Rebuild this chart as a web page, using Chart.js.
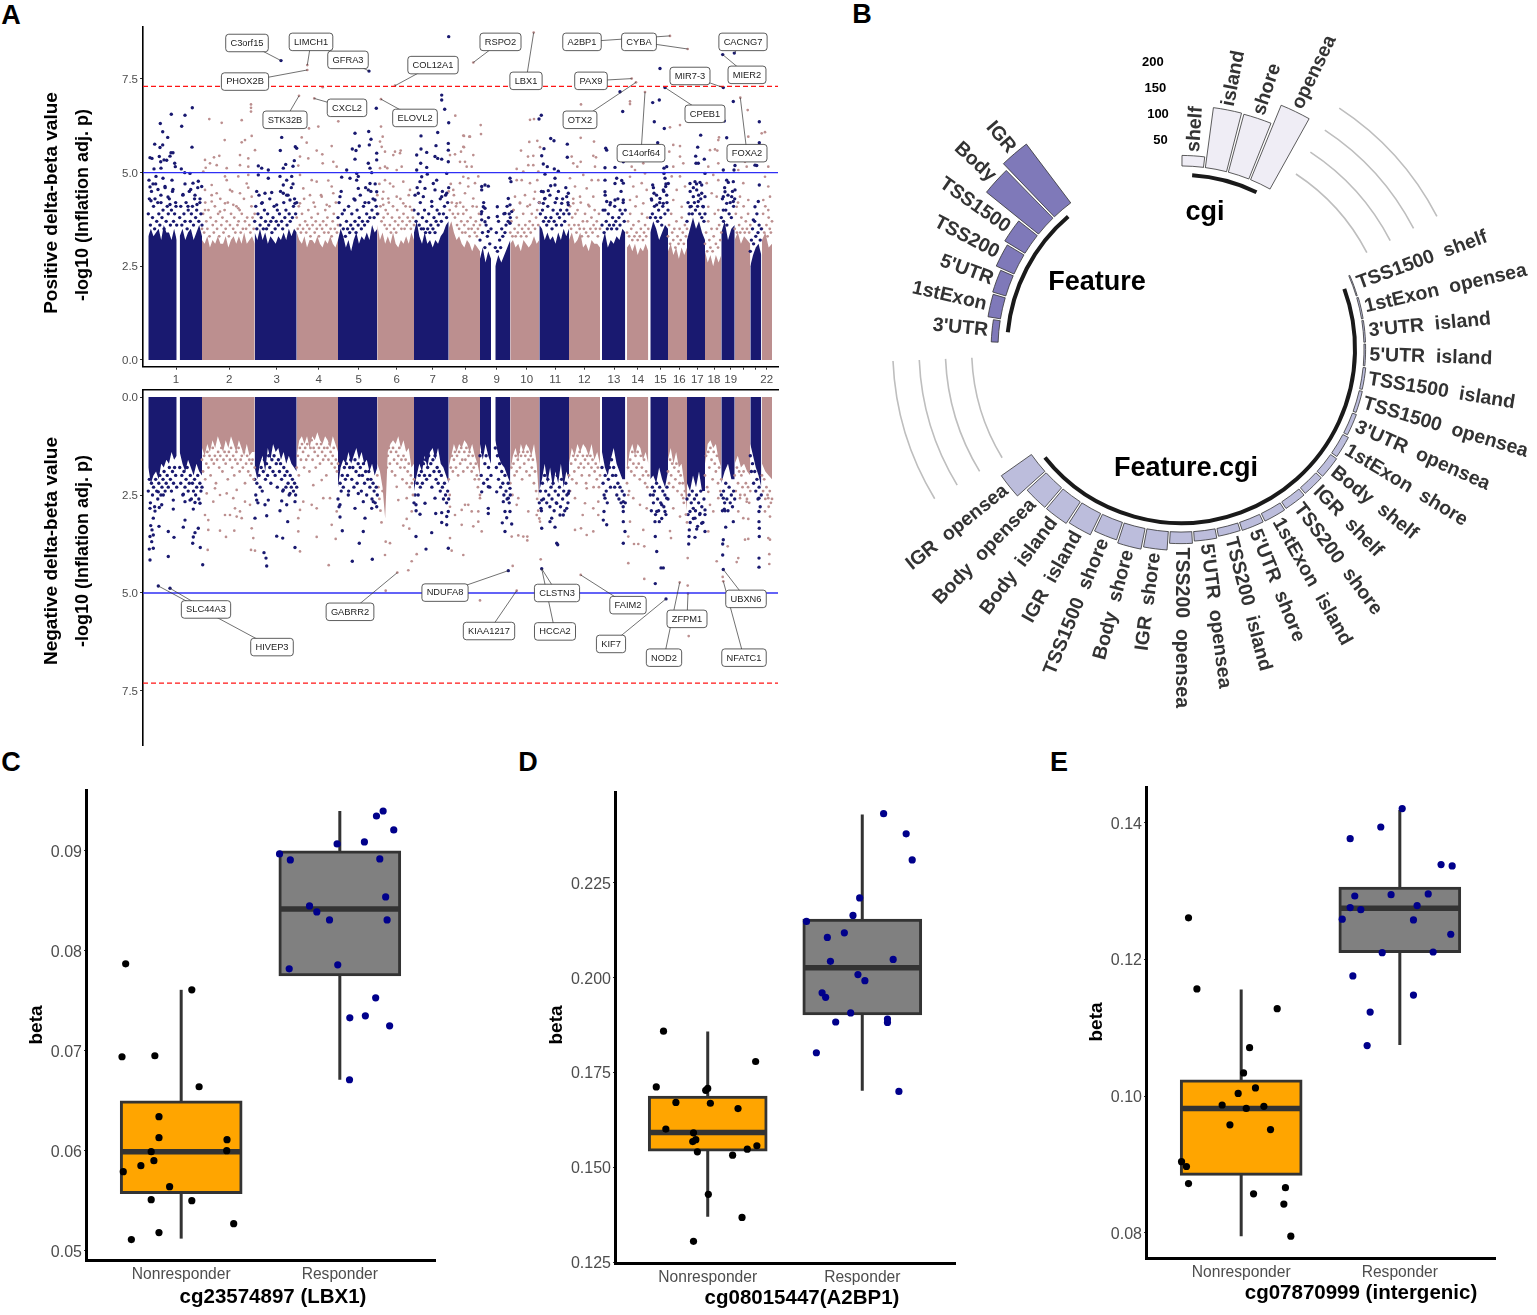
<!DOCTYPE html>
<html><head><meta charset="utf-8"><title>Methylation figure</title>
<style>
html,body{margin:0;padding:0;background:#fff;width:1537px;height:1315px;overflow:hidden}
canvas{position:absolute;display:block}
.letter{position:absolute;font:bold 27px "Liberation Sans",Arial,sans-serif;color:#000;transform:translate(-50%,-50%)}
</style>
<script src="https://cdn.jsdelivr.net/npm/chart.js@4/dist/chart.umd.js"></script>
</head><body>
<div class="letter" style="left:11px;top:15px">A</div>
<div class="letter" style="left:862px;top:14px">B</div>
<div class="letter" style="left:11px;top:762px">C</div>
<div class="letter" style="left:528px;top:762px">D</div>
<div class="letter" style="left:1059px;top:762px">E</div>
<canvas id="aTop" style="left:0;top:0" width="800" height="390"></canvas>
<canvas id="aBot" style="left:0;top:380px" width="800" height="375"></canvas>
<canvas id="bPolar" style="left:800px;top:0" width="737" height="730"></canvas>
<canvas id="cBox" style="left:0;top:770px" width="500" height="545"></canvas>
<canvas id="dBox" style="left:520px;top:770px" width="470" height="545"></canvas>
<canvas id="eBox" style="left:1060px;top:770px" width="477" height="545"></canvas>
<script>
// ---------- Panel A data ----------
const chrTickPos=[33,86.3,133.7,175.7,215.7,253.7,289.7,322,353.7,383.7,412.3,441.3,471,494.7,517.3,536.3,554.3,571,587.7,600.3,612.3,623.7];
const chrTickLabels=['1','2','3','4','5','6','7','8','9','10','11','12','13','14','15','16','17','18','19','','','22'];
const segStart=[5.3,36.7,59,111.7,153.7,195,234.3,271,305.7,337,352.3,367.3,396.3,426,459,484,507.3,525,544,562,578.3,591.7,607.3,619];
const segEnd=[33.7,59,111.7,153.7,195,234.3,271,305.7,337,348,367.3,396.3,426,457,482.3,505.3,525,544,562,578.3,591.7,607.3,618.3,629];
const segNavy=[1,1,0,1,0,1,0,1,0,1,1,0,1,0,1,0,1,0,1,0,1,0,1,0];
const topEnvelope=[
[3.3,3.5,3.3,3.4,3.5,3.2,3.6,3.4,3.4,3.2,3.5,3.2],
[3.3,3.5,3.2,3.4,3.5,3.2,3.4,3.6,3.3],
[3.2,3.1,3.3,3.0,3.2,3.1,3.3,3.1,3.1,3.3,3.0,3.2,3.3,3.1,3.3,3.1,3.4,3.1,3.2,3.3,3.1],
[3.4,3.2,3.5,3.2,3.4,3.1,3.3,3.2,3.1,3.3,3.2,3.4,3.2,3.5,3.3,3.5,3.4],
[3.4,3.2,3.1,3.3,3.0,3.2,3.2,3.1,3.3,3.1,3.0,3.2,3.1,3.3,3.1,3.0,3.2],
[3.2,3.5,3.3,3.0,3.2,2.9,3.2,3.4,3.1,3.3,3.2,3.4,3.2,3.6,3.4,3.5],
[3.6,3.2,3.4,3.1,3.3,3.1,3.4,3.1,3.0,3.2,3.1,3.3,3.1,3.4,3.2],
[3.4,3.7,3.3,3.1,3.4,3.1,3.2,3.0,3.2,3.1,3.3,3.4,3.6,3.7],
[3.5,3.7,3.4,3.2,3.3,3.1,3.0,3.2,3.1,2.9,3.1,3.0,2.9],
[2.7,3.0,2.6,2.9,2.7],
[2.5,2.8,2.6,2.8,3.0,3.2],
[3.1,3.2,3.0,3.1,2.9,3.2,3.1,3.0,3.1,3.3,3.1,3.2],
[3.6,3.5,3.2,3.4,3.2,3.3,3.1,3.4,3.2,3.5,3.3,3.5],
[3.2,3.4,3.1,3.2,3.4,3.0,3.1,2.9,3.2,3.1,3.1,3.0],
[3.1,3.4,3.0,3.2,3.1,3.3,3.2,3.5,3.4],
[3.0,3.1,2.9,3.1,2.8,3.0,2.9,3.1,2.9],
[3.4,3.7,3.5,3.2,3.4,3.6,3.5],
[2.9,3.1,2.8,3.0,2.7,3.0,2.8,3.0],
[3.2,3.5,3.8,3.5,3.7,3.4,3.2],
[2.9,2.6,2.8,2.5,2.8,2.6,2.8],
[3.4,3.7,3.2,3.5,3.6],
[3.2,3.4,3.1,3.3,3.2,3.1],
[2.5,2.8,3.0,3.1,2.8],
[3.2,3.4,3.0,3.1]];
const botEnvelope=[
[1.8,2.2,2.0,1.9,2.1,1.7,1.8,1.6,1.7,1.4,1.6,1.5],
[1.4,1.7,1.9,1.6,1.8,2.0,1.7,1.9,2.0],
[1.3,1.5,1.2,1.4,1.1,1.3,1.0,1.2,1.4,1.1,1.3,1.0,1.2,1.4,1.1,1.3,1.5,1.2,1.5,1.4,1.4],
[1.8,2.1,1.7,1.5,1.9,1.3,1.6,1.2,1.4,1.3,1.6,1.4,1.7,1.5,1.7,1.8,1.9],
[1.5,1.1,1.0,1.2,1.0,1.3,1.0,1.1,.9,1.1,1.2,1.0,1.1,1.3,1.0,1.2,1.4],
[2.3,1.8,1.6,1.7,1.4,1.7,1.5,1.3,1.6,1.4,1.7,1.6,1.9,1.7,2.0,1.8],
[1.7,1.9,2.3,3.1,1.4,1.2,1.1,1.2,1.0,1.3,1.1,1.4,1.3,1.8,1.7],
[2.4,2.0,1.7,1.9,1.5,1.8,1.4,1.3,1.6,1.3,1.7,1.8,2.0,2.2],
[1.8,1.5,1.2,1.4,1.2,1.3,1.1,1.2,1.4,1.2,1.5,1.7,2.0],
[1.2,1.6,1.2,1.5,1.7],
[1.1,1.5,1.7,1.8,2.0,2.2],
[1.9,1.5,1.3,1.6,1.2,1.4,1.2,1.3,1.5,1.2,1.7,2.7],
[2.4,2.1,1.7,2.2,1.8,2.3,1.9,2.2,1.7,2.3,1.9,2.1],
[1.7,1.3,1.5,1.2,1.4,1.2,1.3,1.5,1.2,1.6,1.4,1.7],
[1.4,1.8,2.0,1.6,1.3,1.7,1.9,2.1,2.1],
[1.9,1.4,1.2,1.5,1.2,1.3,1.6,1.4,1.7],
[2.1,2.0,2.2,1.8,2.1,2.3,1.9],
[1.6,1.3,1.7,1.4,1.8,1.7,2.2,2.9],
[2.2,2.4,2.0,2.3,1.9,2.4,2.4],
[1.7,1.2,1.1,1.3,1.2,1.6,1.8],
[2.2,1.9,1.7,2.1,2.1],
[1.7,1.5,1.8,1.7,1.9,2.0],
[1.2,1.5,1.8,2.0,2.3],
[1.7,1.9,2.0,2.1]];
// dots just above the solid mass, one list per chromosome segment, read left to right
const topSpeckle=[
[3.9,4.3,3.6,4.5,3.8,4.1,3.5,4.7,3.7,4.2,3.9,3.6,4.4,3.8,4.0,3.5,4.6,3.7,4.1,3.9,4.3,3.6,4.0,4.5,3.7,3.9,4.2,3.6],
[3.8,4.1,3.6,4.4,3.9,3.7,4.2,3.5,4.0,4.5,3.7,3.9,4.1,3.6,4.3,3.8,4.0,4.6,3.7,4.2,3.9,3.6],
[3.5,3.9,3.4,4.2,3.7,3.5,4.0,3.3,3.8,4.4,3.6,3.4,4.1,3.7,3.5,3.9,3.3,4.3,3.6,3.8,3.4,4.0,3.5,3.7,4.2,3.3,3.6,3.9,4.5,3.5,3.8,3.4,4.1,3.6,3.7,4.0,3.4,3.9,3.5,4.3,3.7,3.5,3.8,4.6,3.6,3.4,4.1,3.8,3.5,3.9],
[3.7,4.1,3.5,3.9,4.4,3.6,3.8,4.2,3.5,4.0,3.7,3.5,3.9,3.6,4.3,3.7,3.4,3.8,4.1,3.5,3.7,4.0,3.6,3.9,4.5,3.7,3.5,4.2,3.8,4.0,3.6,4.4,3.9,3.7,4.6,3.8,4.1,4.3,3.9,4.2],
[3.8,3.5,4.1,3.6,3.4,3.9,3.5,4.3,3.7,3.4,3.6,4.0,3.5,3.3,3.8,3.6,4.2,3.4,3.7,3.5,3.9,3.3,3.6,4.4,3.5,3.7,3.4,4.0,3.6,3.8,3.4,4.1,3.5,3.3,3.7,3.9,3.5,4.2,3.4,3.6],
[3.8,4.2,3.6,4.5,3.9,3.5,4.0,3.3,3.7,3.5,4.1,3.4,3.6,3.9,3.5,4.3,3.7,3.4,4.0,3.6,3.8,4.4,3.5,3.7,4.1,3.6,4.6,3.9,3.7,4.2,3.8,4.5,4.0,4.3,3.8,4.7,4.1,3.9],
[4.4,3.9,4.7,4.1,3.7,4.3,3.8,3.6,4.0,3.5,3.9,4.2,3.6,3.4,3.8,4.1,3.5,3.7,3.4,4.0,3.6,3.8,4.3,3.5,3.7,3.9,3.5,4.1,3.6,3.8,4.4,3.7,3.5,4.0,3.8,3.6],
[4.0,4.4,3.7,4.6,3.9,3.6,4.2,3.5,3.8,3.5,4.0,3.4,3.7,3.5,3.9,3.4,3.6,4.1,3.5,3.8,3.4,3.7,4.0,3.6,3.9,4.3,3.7,4.5,3.9,4.1,4.4,3.8,4.2,4.6],
[4.5,4.0,4.7,4.2,3.9,4.4,3.8,4.1,3.6,3.9,3.5,4.2,3.7,3.4,3.9,3.6,3.4,4.0,3.7,3.5,3.3,3.8,3.5,4.1,3.6,3.4,3.7,3.3,3.5,3.9,3.6],
[3.2,3.9,3.4,4.2,3.0,3.6,3.3,3.8,3.1,3.5],
[3.0,3.4,2.9,3.7,3.2,3.0,3.5,3.3,3.9,3.4,3.6,4.1,3.7,3.9,3.8],
[3.4,3.7,3.3,4.0,3.5,3.3,3.8,3.4,3.6,4.2,3.3,3.5,3.9,3.4,3.6,3.3,4.1,3.5,3.7,3.4,3.9,3.6,4.3,3.5,3.8,4.0,3.6,4.2],
[4.2,3.9,4.5,4.0,3.7,4.3,3.8,3.6,4.1,3.7,4.4,3.8,3.5,4.0,3.7,4.2,3.6,3.9,4.5,3.8,4.0,3.6,4.3,3.9,3.7,4.6,4.0,4.2,3.9],
[3.6,4.1,3.5,3.8,4.3,3.6,3.9,3.4,4.0,3.6,3.5,4.2,3.3,3.7,3.5,3.9,3.4,3.7,3.3,4.1,3.5,3.8,3.4,3.6,4.0,3.5,3.7,3.3,3.9,3.5],
[3.6,4.0,3.4,4.4,3.7,3.5,3.9,3.6,4.2,3.5,3.8,3.6,4.1,3.7,3.5,4.3,3.8,3.6,4.5,3.9,4.2,3.7,4.0],
[3.4,3.7,3.3,3.9,3.5,3.2,3.6,3.3,4.1,3.4,3.2,3.7,3.3,3.5,3.9,3.2,3.4,3.6,3.3,3.8,3.5],
[3.8,4.3,3.9,4.6,4.1,3.8,4.4,3.7,4.0,4.2,3.8,3.6,4.1,4.5,3.9,4.7,4.2,4.0],
[3.3,3.6,3.1,3.9,3.4,3.2,3.5,3.0,3.7,3.3,3.1,3.5,3.2,3.8,3.4,3.1,3.6,3.3,3.5],
[3.7,4.2,3.9,4.5,4.1,3.9,4.6,4.2,4.0,4.7,4.1,4.4,3.9,4.3,3.8,4.1,3.7,3.9],
[3.1,3.4,2.9,3.7,3.2,3.0,3.5,2.9,3.3,3.9,3.1,3.5,3.0,3.6,3.2,3.4],
[3.8,4.3,3.7,4.6,4.0,3.6,4.4,3.9,4.2,3.8,4.5,4.1,4.3],
[3.5,3.9,3.4,4.2,3.6,3.4,3.8,3.5,4.1,3.4,3.7,3.5,3.9,3.4,3.6],
[2.9,3.2,3.5,3.1,3.7,3.3,3.9,3.4,3.6,3.2,3.5],
[3.5,3.9,3.4,4.1,3.6,3.3,3.8,3.5,3.4,3.7]];
const botSpeckle=[
[2.4,2.1,2.7,2.2,2.5,2.3,2.8,2.1,2.4,2.6,2.2,2.0,2.5,2.3,2.1,1.9,2.4,2.2,2.0,2.3,1.8,2.1,2.4,1.9,2.2,1.8,2.0,2.3],
[1.8,2.2,2.0,2.5,1.9,2.3,2.1,1.8,2.4,2.2,2.0,2.6,2.2,2.4,2.1,2.5,2.3,2.0,2.6,2.2,2.4,2.3],
[1.6,1.9,1.5,2.1,1.7,1.4,1.8,1.5,2.0,1.6,1.3,1.7,1.5,2.2,1.6,1.4,1.8,1.5,1.3,1.9,1.6,1.4,1.7,1.5,2.1,1.4,1.6,1.3,1.8,1.5,2.0,1.6,1.4,1.7,1.3,1.9,1.6,1.5,1.8,1.4,2.2,1.7,1.5,1.9,1.6,2.0,1.7,1.6,2.1,1.8],
[2.1,2.5,2.2,2.7,2.0,2.3,1.8,2.4,1.9,1.6,2.1,1.7,2.0,1.5,1.8,2.2,1.6,1.9,1.5,2.0,1.7,2.3,1.6,1.9,1.7,2.1,2.4,1.8,2.0,2.3,1.9,2.2,2.5,2.0,2.3,2.1,2.4,2.2,2.5,2.3],
[1.8,1.5,2.0,1.3,1.6,1.2,1.4,1.8,1.3,1.6,1.2,1.5,1.9,1.3,1.1,1.6,1.3,1.4,1.8,1.2,1.5,1.3,1.7,1.2,1.4,1.6,1.3,1.5,2.0,1.3,1.6,1.2,1.4,1.7,1.5,1.3,1.8,1.6,1.9,1.7],
[2.6,2.8,2.2,2.4,2.0,2.3,1.8,2.1,1.7,2.0,2.4,1.8,1.6,2.1,1.8,2.3,1.6,1.9,2.2,1.7,2.0,1.8,2.4,2.0,1.7,2.2,1.9,2.5,2.1,1.9,2.3,2.1,2.6,2.2,2.4,2.7,2.3,2.5],
[2.0,2.3,2.6,2.9,3.2,2.4,1.9,1.6,1.4,1.8,1.5,1.3,1.7,1.4,1.9,1.3,1.6,2.0,1.4,1.7,1.5,1.3,1.8,1.6,2.1,1.5,1.8,1.6,2.2,1.9,1.7,2.3,2.0,2.2,2.5,2.1],
[2.7,2.5,2.9,2.2,2.5,2.0,2.3,1.9,2.2,1.7,2.0,1.6,2.1,1.8,1.5,2.0,1.7,2.3,1.6,1.9,1.5,2.1,1.8,2.2,1.9,2.4,2.0,2.3,2.6,2.2,2.5,2.7,2.4,2.6],
[2.1,2.5,1.8,1.5,1.9,1.6,1.4,1.8,1.5,2.0,1.4,1.7,1.3,1.6,1.9,1.4,1.6,1.3,1.8,1.5,1.4,1.7,1.9,1.5,1.8,2.1,1.7,2.0,2.3,2.1,2.5],
[1.5,2.0,1.4,2.2,1.7,1.5,2.1,1.8,2.3,2.0],
[1.3,1.8,1.5,2.1,1.7,2.3,1.9,2.2,2.5,2.0,2.4,2.6,2.2,2.7,2.5],
[2.2,1.8,2.5,1.7,2.0,1.5,1.9,1.6,1.4,1.8,1.5,2.1,1.4,1.7,1.5,1.9,1.4,1.6,2.0,1.5,1.8,1.6,2.2,1.9,2.4,2.6,2.9,3.1],
[2.7,2.4,2.9,2.2,2.6,2.0,2.4,2.7,2.1,2.5,2.8,2.3,2.6,2.2,2.9,2.4,2.7,2.0,2.5,2.3,2.8,2.1,2.6,2.4,2.9,2.2,2.5,2.7,2.4],
[2.0,2.4,1.7,2.1,1.5,1.9,1.6,2.2,1.5,1.8,1.4,1.7,2.0,1.5,1.8,1.6,2.2,1.5,1.7,2.0,1.5,1.8,1.6,2.3,1.9,1.7,2.1,1.8,2.3,2.0],
[1.8,2.2,2.5,2.0,2.4,2.7,2.1,1.8,2.3,1.6,2.0,1.8,2.3,2.0,2.5,2.2,2.6,2.3,2.7,2.4,2.8,2.5,2.7],
[2.2,1.8,2.4,1.6,1.9,1.4,1.7,2.0,1.5,1.8,1.4,1.7,2.1,1.5,1.8,2.0,1.6,2.2,1.9,2.3,2.0],
[2.5,2.9,2.3,2.7,2.4,3.0,2.2,2.6,2.9,2.3,2.7,3.1,2.4,2.8,2.5,3.0,2.3,2.6],
[1.9,2.2,1.6,2.0,1.7,2.3,1.8,2.1,1.7,2.4,1.9,2.2,2.0,2.5,2.2,2.7,2.4,3.0,3.2],
[2.6,3.0,2.5,3.2,2.7,2.4,3.1,2.6,2.9,2.5,3.3,2.7,3.0,2.4,2.8,3.2,2.6,3.0],
[2.0,1.5,2.3,1.4,1.8,1.3,1.6,2.1,1.4,1.7,1.9,1.5,2.2,1.8,2.4,2.1],
[2.5,2.9,2.4,2.7,2.2,2.6,2.9,2.3,2.7,2.5,2.8,2.4,2.6],
[2.0,2.4,1.8,2.2,1.9,2.5,2.0,2.3,1.9,2.5,2.2,2.6,2.3,2.7,2.4],
[1.5,1.9,1.7,2.2,1.9,2.4,2.1,2.6,2.3,2.8,2.5],
[2.0,2.4,2.1,2.6,2.3,2.5,2.8,2.4,2.7,2.6]];
const topNavyPoints=[[28.3,6.56],[17.3,6.31],[19.7,6.09],[24.7,5.94],[11.7,5.76],[19.7,5.74],[17,5.67],[7,5.4],[9,5.38],[16.3,5.43],[21,5.34],[27,5.44],[30,5.53],[28,5.53],[17.7,5.29],[23.7,5.33],[31.7,5.25],[32.3,5.16],[11,5.1],[18,5.12],[6,4.8],[13,4.9],[20,4.85],[29,4.8],[10,4.7],[7,4.62],[15,4.55],[22,4.63],[30,4.55],[25,4.35],[12,4.3],[8,4.25],[18,4.2],[27,4.15],[33,4.1],
[38.7,6.24],[42,6.53],[49.3,6.73],[49,5.68],[38.3,5.1],[41.7,5],[47,4.98],[42,4.7],[50,4.72],[55.3,4.77],[58.7,4.63],[47.7,4.55],[40,4.42],[52,4.4],[57,4.3],[45,4.1],[54,4.15],
[138,7.99],[138.7,5.94],[137.3,5.59],[152.3,5.69],[153.7,5.65],[151.3,5.32],[142.7,5.22],[140.3,5.12],[150,5.17],[115.3,5.18],[118.7,5.12],[125.3,5.07],[115.3,4.94],[125.3,4.85],[137,4.9],[143.7,4.8],[148.7,4.9],[150,4.7],[140.3,4.67],[122,4.45],[128.7,4.47],[140.3,4.45],[143.7,4.4],[113.7,4.5],[118.7,4.18],[133.7,4.14],[147,4.27],[152,4.18],
[226,7.71],[233.3,6.72],[212,6.05],[225.7,6.1],[228,5.89],[216.3,5.71],[226.3,5.74],[209.3,5.63],[213,5.59],[212,5.36],[233.7,5.52],[225.3,5.25],[233.7,5.34],[227,5.12],[203.7,5.07],[213.7,4.98],[215.3,4.9],[228.7,5],[198.7,4.88],[213.7,4.8],[227,4.71],[207,4.85],[215.3,4.58],[225.3,4.54],[233.7,4.49],[197,4.36],[212,4.27],[232,4.27],[222,4.2],
[305.7,8.63],[298.7,7.07],[298.7,6.94],[301.7,6.69],[305.7,6.33],[294.7,6.07],[278,5.98],[293,5.72],[278,5.63],[305.3,5.78],[305.3,5.6],[283.7,5.54],[273.7,5.47],[292,5.43],[294.7,5.38],[298.7,5.36],[305.3,5.29],[277.7,5.25],[273.7,5.07],[283.7,5.14],[278.7,4.89],[284.3,4.96],[303.7,4.98],[290.3,4.71],[277,4.76],[293.7,4.8],[282,4.58],[292,4.54],[275.3,4.45],[303.7,4.45],[280.3,4.36],[298.7,4.36],[288.7,4.23],
[338.7,4.63],[342,4.67],[345.3,4.64],[338.7,4.54],[340.3,4.09],[342,4.05],[338.7,3.96],[338.7,3.74],[342,3.69],[345.3,3.43],[354.3,4.09],[354.3,3.83],[362,3.91],[367,4.85],[368,4.76],[365.3,4.31],[367,4.14],[368.7,3.96],[367,3.65],
[398.3,6.53],[396,6.43],[407.7,5.91],[411,5.85],[401,5.64],[424.3,5.76],[424.3,5.41],[398.7,5.45],[400.3,5.23],[404.3,5.16],[411.3,5.1],[415.3,5.04],[402,4.96],[412,4.85],[407.7,4.65],[400.3,4.49],[405.3,4.52],[412,4.67],[425.3,4.45],[402,4.31],[413.7,4.31],[423.7,4.36],[400.3,4.18],[418.7,4.18],[425.3,4.14],
[462.7,5.65],[463.7,5.6],[462,5.13],[472,5.14],[479.7,6.63],[477,7.16],[473.7,4.85],[462,4.8],[472,4.71],[478.7,4.79],[480.3,4.72],[462,4.49],[480.3,4.27],[472,4.27],[463.7,4.23],[467,4.14],[477,4],[462,4],[480.3,5.29],
[517,7.78],[516.3,6.94],[509.7,6.87],[511.3,6.36],[521.3,6.18],[514.7,5.8],[518.3,5.6],[523.7,5.16],[521,5.12],[521,4.98],[522,4.85],[518.7,5.34],[522.7,4.63],[525.3,4.71],[520.3,4.54],[509.7,4.67],[511,4.45],[523.7,4.4],[517,4.31],[508.7,4.27],[513.7,4.14],[520.3,4.18],[522,7.27],
[557.7,6],[554.7,5.68],[552.7,5.44],[561.3,5.36],[553,5.25],[555.3,5.25],[562,4.98],[552,4.76],[557,4.74],[558.7,4.67],[553.7,4.54],[547,4.71],[558.7,4.45],[550.3,4.36],[562,4.36],[555.3,4.23],[547,4.09],[560.3,4.09],
[581.3,6.38],[583.7,5.93],[580.3,5.07],[592,5.19],[591,5.07],[583.7,4.8],[585.3,4.74],[590.3,4.76],[582,4.49],[592,4.54],[588.7,4.36],[580.3,4.36],[583.7,4.18],[590.3,4.23],[580.3,4],[579.7,8.15],[591.3,8.19],[580.3,7.27],[590.3,6.9],
[616.3,6.36],[616.3,5.8],[613.7,5.19],[612,5.2],[616.3,4.67],[615.3,4.23],[612,4.09],[610.3,3.74]];
const topRosyPoints=[[66.3,6.43],[78.7,6.33],[98.7,6.4],[108,6.82],[108,6.73],[108,6.63],[81.7,5.87],[98.7,5.81],[102,5.87],[108.7,5.98],[97,5.47],[112,5.6],[71,5.41],[76.3,5.45],[62,5.34],[67,5.25],[73.7,5.2],[62.7,5.13],[83.7,5.12],[97,5.2],[105.3,5.38],[105.3,5.16],[60.3,5.03],[82,4.9],[95.3,4.9],[105.3,4.94],[68.7,4.67],[83.7,4.8],[87,4.54],[103.7,4.71],[62,4.54],[73.7,4.45],[97,4.45],[82,4.18],[90.3,4.14],[108.7,4.36],[68.7,4.23],[62,4],[95.3,4.05],[77,3.96],
[156,7.05],[171.3,6.98],[179.7,7.28],[164.3,7.87],[164.3,7.74],[195.3,6.37],[166,6.18],[175.3,6.23],[158.7,5.94],[163.7,5.8],[188.7,5.71],[173.7,5.59],[179.3,5.49],[165.3,5.38],[157,5.43],[179.7,5.25],[190.3,5.29],[155.3,5.19],[157,4.94],[193.7,5.16],[168.7,4.8],[173.7,4.76],[185.3,4.79],[160.3,4.58],[188.7,4.63],[167,4.4],[178.7,4.36],[190.3,4.45],[157,4.18],[172,4.09],[183.7,4.14],
[252,7.32],[238,6.96],[238,6.23],[239.7,5.96],[237,5.83],[238.7,5.69],[242,5.56],[252,5.56],[257.7,5.59],[250.3,5.47],[257,5.52],[242,5.16],[244.3,5.12],[237,5.12],[258.7,5.16],[253.7,5.07],[242,4.8],[247,4.71],[260.3,4.76],[240.3,4.49],[250.3,4.63],[253.7,4.36],[267,4.54],[245.3,4.31],[260.3,4.18],[240.3,4.14],[267,4.09],
[312.3,6.52],[320.3,5.99],[326.3,5.96],[312,5.49],[307,5.47],[320.3,5.69],[322,5.29],[317,5.29],[323.7,5.16],[325.3,4.85],[317,4.72],[310.3,4.54],[322,4.45],[313.7,4.18],[320.3,4.09],
[330.3,7.94],[337.7,6.27],[338,6.03],[321,5.98],[327,5.96],[321,5.68],[318,5.56],[330.3,5.47],[328.7,5.16],[320.3,4.89],[325.3,4.63],[332,4.72],[335.3,4.9],[330.3,4.31],[333.7,4.09],
[390.7,8.74],[387,6.41],[391,6.43],[394.3,5.85],[386.3,5.82],[378,5.59],[397,5.68],[390.3,5.45],[385,5.43],[385.3,5.2],[390.3,5.2],[373.7,5.1],[380.3,5.03],[395.3,5.03],[373.7,4.8],[378.7,4.8],[387,4.72],[394.3,4.8],[372,4.36],[382,4.4],[392,4.49],[377,4.18],[387,4.14],[370.3,4],
[438,6.82],[437.7,5.93],[451,5.83],[428.7,5.43],[450.3,5.45],[453,5.41],[430.3,5.25],[437.7,5.29],[434.3,5.16],[452,5.16],[440.3,4.94],[427,4.85],[448.7,4.8],[455.3,4.8],[432,4.63],[443.7,4.58],[437,4.36],[450.3,4.36],[430.3,4.18],[445.3,4.14],
[488.7,7.51],[493,7.41],[502,7.15],[487,6.9],[487,6.83],[485.3,5.34],[488.7,5.16],[500.3,5.25],[487,4.89],[502,4.98],[492,5.07],[490.3,4.63],[498.7,4.72],[503.7,4.54],[493.7,4.36],[487,4.27],[500.3,4.18],
[527,8.65],[544.7,8.3],[527,6.21],[537,6.27],[530.3,5.74],[537,5.71],[526.3,5.56],[537,5.43],[530.3,5.16],[540.3,5.25],[528.7,4.9],[537,4.9],[533.7,4.54],[542,4.63],[530.3,4.27],[538.7,4.09],
[576,5.94],[575.3,5.87],[567,5.6],[572,5.62],[574.3,5.59],[565.3,5.16],[575.3,5.25],[570.3,4.94],[563.7,4.72],[575.3,4.8],[568.7,4.45],[573.7,4.36],[565.3,4.09],[575.3,4],
[597.3,7],[604.7,6.67],[605.3,5.96],[595.3,5.56],[602,5.29],[607,5.47],[603.7,5.16],[595.3,5.07],[600.3,4.72],[597,4.36],[605.3,4.27],[593.7,4.09],
[622,6.08],[618.7,6.05],[625.3,5.16],[622,4.89],[625.3,4.63],[627,4.36],[620.3,4.27],[625.3,4]];
const botNavyPoints=[[10.3,3.09],[7.7,3.28],[16,3.3],[9,3.39],[10.3,3.52],[25.3,3.43],[7,3.56],[31,3.58],[8.7,3.69],[6.3,3.88],[10.3,3.86],[25.3,4.07],[7,4.16],[15.3,4.82],[27,4.88],[30.3,2.63],[30.3,2.86],[16.3,2.82],[7,2.84],[12,2.91],[20.3,2.5],[15.3,2.42],[18.7,2.75],
[42,3.14],[40.3,3.32],[55.3,3.35],[52,3.46],[50.3,3.57],[49.7,3.73],[57.3,3.84],[59.7,4.28],[42,2.67],[47,2.63],[52,2.69],[57,2.71],[50.3,2.86],[40.3,2.48],
[121,3.97],[123,4.11],[123.7,4.31],[133.7,3.55],[139.7,3.6],[152,3.84],[144.7,3.18],[123.7,3.03],[137,2.9],[143.7,2.75],[138.7,2.65],[122,2.75],[125.3,2.63],[113.7,2.63],[112,3.09],[152,2.67],[140.3,2.37],[147,2.46],
[197,3.06],[199.3,3.41],[216.3,3.73],[220.3,3.43],[222,3.09],[209.3,4.19],[229.3,4.14],[212,2.84],[197,2.75],[215.3,2.46],[230.3,2.67],[233.7,2.8],[228.7,2.84],[205.3,2.5],[220.3,2.67],
[273,3.56],[283,3.88],[288.7,3.46],[305.3,3.86],[277,2.99],[292.7,2.97],[298.7,2.95],[303.7,3.05],[298.7,3.2],[303.7,3.26],[273,2.75],[282,2.71],[292,2.58],[305.3,2.92],
[345.3,2.84],[345.3,2.97],[338.7,2.42],[345.3,2.29],[365.3,4.43],[362,3.43],[359.3,3.21],[368.7,3.24],[363.7,3.08],[367,2.92],[362,2.92],[360.3,2.67],[365.3,2.58],[353.7,2.42],[367,2.33],
[398.7,4.38],[413.7,3.73],[414.7,3.77],[398.7,3.35],[398,2.84],[408.7,3.09],[412,3.32],[417,3.01],[423.7,2.84],[420.3,3.01],[407,3.18],[413.7,2.71],[425.3,2.46],[398.7,2.63],
[460.3,3.14],[463.7,3.26],[461,2.92],[480.3,3.73],[482,3.43],[480.3,3.18],[480.3,2.92],[480.3,2.67],[462,2.58],
[512.3,4.76],[518,4.36],[520.3,4.36],[513.7,3.94],[523,5.15],[512.3,3.56],[512,3.18],[516.3,3.18],[513.7,2.92],[522,2.92],[518.7,2.75],[510.3,2.5],[523.7,2.58],
[545.7,3.75],[546,3.56],[552,3.58],[546.3,3.39],[553.7,3.37],[562,3.43],[558.7,3.22],[552,3.09],[547,2.92],[557,2.97],[562,2.88],[550.3,2.84],
[580.3,4.4],[579.7,4.03],[579.7,3.75],[580.3,3.64],[582.7,3.32],[581.3,2.86],[582,2.9],[590.3,3.18],[580.3,2.58],
[616,4.34],[616,4.11],[616.3,3.56],[616.3,3.35],[616,3.18],[616,2.92],[616,2.58]];
const botRosyPoints=[[64.7,3.9],[65.3,3.39],[77,3.41],[83,3.57],[91.3,3.41],[62,3.01],[65.3,3.14],[82,3.01],[87,3.01],[92,2.84],[93.7,3.05],[98.7,3.09],[108.7,3.35],[110.3,3.6],[108,3.9],[112,3.92],[97,2.92],[70.3,2.67],[77,2.5],[83.7,2.46],[102,2.67],[63.7,2.46],[90.3,2.58],[107,2.75],[72,2.33],[93.7,2.37],
[157,3.94],[155.3,3.43],[155.3,3.09],[157,2.88],[160.3,2.67],[168.7,2.75],[173.7,2.84],[173.7,3.57],[185.7,4.29],[188.7,3.26],[192.7,3.62],[180.3,2.58],[170.3,2.25],[178.7,2.12],[187,2.58],[193.7,2.92],
[242,4.03],[242.7,3.69],[247,3.73],[242.7,4.94],[254.3,4.48],[265.3,4.42],[268.7,4.19],[273.7,4.01],[260.3,3.28],[266.3,3.36],[263.7,3.11],[268.7,2.92],[255.3,2.63],[253.7,2.29],[263.7,2.58],
[307,3.6],[308.7,3.92],[320.3,4.03],[318.7,3.26],[312,3.01],[318.7,2.88],[325.3,2.75],[307,2.8],[337,5.19],[338.7,3.43],[330.3,3.3],[335.3,3.18],[328.7,2.92],[322,2.75],[335.3,2.92],[337,2.58],
[373.7,4.94],[369.7,4.31],[397.7,4.14],[368.7,3.56],[375.3,3.53],[380.3,3.56],[384.3,3.56],[384.3,3.66],[397,3.18],[373.7,2.75],[375.3,2.58],[385.3,2.92],[393.7,3.01],
[437.7,4.54],[432,3.39],[438,3.35],[443.7,3.52],[450.3,3.43],[455.3,3.01],[439.7,3.01],[442,2.71],[450.3,2.84],[432,2.58],[443.7,2.33],[455.3,2.67],
[485.3,4.24],[501.3,4.64],[485.3,3.56],[491,3.75],[495.3,3.75],[501.3,3.81],[487,3.18],[500.3,3.39],[490.3,2.58],[497,2.75],[503.7,2.84],[485.3,2.5],
[536.7,4.73],[544.7,4.81],[545,5.01],[545.7,6.1],[544.7,4.11],[528,3.6],[527,3.42],[537,3.05],[530.3,2.84],[540.3,2.58],
[573.7,4.19],[565.3,3.43],[570.3,2.92],[575.3,2.58],[567,2.75],[565.3,2.42],[579.7,4.59],[580.3,4.7],
[584.7,3.81],[595.3,4.11],[593.7,4.21],[602,3.64],[605.3,3.62],[605.3,3.11],[600.3,3.09],[595.3,2.92],[603.7,2.67],[597,2.58],
[626.3,4.01],[626.3,4.26],[625.3,3.6],[627,3.64],[627,3.05],[622,2.92],[625.3,2.58]];
const topGeneNames=['C3orf15','LIMCH1','GFRA3','PHOX2B','COL12A1','STK32B','CXCL2','ELOVL2','RSPO2','LBX1','A2BP1','CYBA','PAX9','OTX2','C14orf64','MIR7-3','CPEB1','CACNG7','MIER2','FOXA2'];
const topGeneBoxPos=[104,168,205,102,290,142,204,272,357.5,383,439,496,448,437,498,547,562,600,604,604];
const topGeneBoxVal=[8.46,8.49,8.01,7.43,7.87,6.41,6.73,6.46,8.49,7.45,8.49,8.49,7.45,6.41,5.52,7.58,6.57,8.49,7.61,5.52];
const topGenePos=[138,164.3,226,164.3,252,156,171.3,238,330.3,390.7,527,544.7,488.7,493,502,580.3,522,591.3,579.7,597.3];
const topGeneVal=[7.99,7.87,7.71,7.74,7.32,7.05,6.98,6.96,7.94,8.74,8.65,8.3,7.51,7.41,7.15,7.27,7.27,8.19,8.15,7];
const botGeneNames=['SLC44A3','HIVEP3','GABRR2','NDUFA8','KIAA1217','CLSTN3','HCCA2','FAIM2','KIF7','ZFPM1','NOD2','UBXN6','NFATC1'];
const botGeneBoxPos=[63,129,207,302,346,414,412,485,468,544,521,603,601];
const botGeneBoxVal=[5.42,6.38,5.48,4.99,5.97,5,5.98,5.31,6.3,5.66,6.65,5.15,6.65];
const botGenePos=[27,15.3,254.3,365.3,373.7,398.7,398.7,437.7,523,545,536.7,580.3,580.3];
const botGeneVal=[4.88,4.82,4.48,4.43,4.94,4.38,4.38,4.54,5.15,5.01,4.73,4.4,4.7];
const yTicksA=[0,2.5,5,7.5];
const suggestiveLine=5, genomeWideLine=7.3;

// ---------- Panel B data ----------
const cgiNames=['shelf','island','shore','opensea'];
const cgiValues=[20,115,114,153];
const featureCgiNames=['TSS1500  shelf','1stExon  opensea',"3'UTR  island","5'UTR  island",'TSS1500  island','TSS1500  opensea',"3'UTR  opensea",'1stExon  shore','Body  shelf','IGR  shelf','TSS200  shore','1stExon  island',"5'UTR  shore",'TSS200  island',"5'UTR  opensea",'TSS200  opensea','IGR  shore','Body  shore','TSS1500  shore','IGR  island','Body  island','Body  opensea','IGR  opensea'];
const featureCgiValues=[2,3,3,3,5,6,8,12,14,14,15,16,16,15,18,22,35,40,35,45,49,49,70];
const featureNames=["3'UTR",'1stExon',"5'UTR",'TSS200','TSS1500','Body','IGR'];
const featureValues=[13,24,26,37,45,127,140];
const radialTicks=[50,100,150,200];

// ---------- Panels C, D, E data ----------
const groupNames=['Nonresponder','Responder'];
const cNon=[[.65,.0787],[1.067,.0761],[.627,.0694],[.834,.0695],[1.113,.0664],[.86,.0634],[.86,.0613],[1.289,.0611],[1.287,.06],[.811,.0599],[.828,.059],[.746,.0585],[.635,.0579],[.927,.0564],[.811,.0551],[1.067,.055],[1.331,.0527],[.86,.0518],[.686,.0511]];
const cRes=[[2.273,.094],[2.231,.0935],[2.34,.0921],[2.155,.0909],[1.983,.0907],[1.62,.0897],[1.688,.0891],[2.252,.0892],[2.289,.0854],[1.809,.0845],[1.855,.0839],[1.935,.0831],[2.298,.0831],[1.681,.0782],[1.987,.0786],[2.226,.0753],[2.161,.0735],[2.063,.0733],[2.314,.0725],[2.061,.0671]];
const cBoxStats=[[.0512,.0557,.0599,.065,.0761],[.0671,.0775,.0842,.09,.094]];
const dNon=[[.714,.1859],[1.31,.1779],[.667,.1712],[1,.1708],[.987,.1703],[.794,.1671],[1.017,.1669],[1.196,.1655],[.729,.1601],[.908,.1591],[.923,.1573],[.903,.1568],[.933,.1541],[1.318,.1557],[1.256,.1548],[1.161,.1532],[1.004,.1429],[1.222,.1368],[.908,.1305]];
const dRes=[[2.138,.2432],[2.284,.2379],[2.323,.231],[1.983,.221],[1.94,.2164],[1.639,.2148],[1.884,.2118],[1.774,.2106],[1.794,.2043],[2.2,.2048],[1.972,.2008],[2.017,.1992],[1.74,.196],[1.763,.1948],[1.925,.1907],[2.163,.1891],[2.163,.1882],[1.828,.1883],[1.703,.1802],[2.237,.17]];
const dBoxStats=[[.137,.1543,.1592,.1688,.1858],[.1702,.1902,.2026,.2154,.243]];
const eNon=[[.668,.1261],[.721,.1157],[1.227,.1128],[1.053,.1071],[1.015,.1034],[1.09,.1012],[.981,.1004],[.88,.0987],[1.032,.0982],[1.143,.0985],[.929,.0958],[1.185,.0951],[.624,.0904],[.655,.0897],[.668,.0872],[1.279,.0866],[1.078,.0857],[1.269,.0842],[1.313,.0795]];
const eRes=[[2.015,.1421],[1.88,.1394],[1.687,.1377],[2.26,.1339],[2.33,.1337],[1.716,.1293],[1.945,.1295],[2.179,.1296],[1.687,.1276],[1.754,.1273],[2.109,.1279],[1.637,.1259],[2.086,.1258],[2.321,.1237],[1.889,.121],[2.21,.1211],[1.704,.1176],[2.086,.1148],[1.813,.1123],[1.794,.1074]];
const eBoxStats=[[.0795,.0884,.0982,.1024,.1156],[.1075,.121,.1275,.1306,.1419]];
const cTicks=[.05,.06,.07,.08,.09], dTicks=[.125,.15,.175,.2,.225], eTicks=[.08,.1,.12,.14];

// ---------- Rendering ----------
const SANS='"Liberation Sans",Arial,sans-serif';
const NAVY='#191970', ROSY='#BC8F8F';
Chart.defaults.font.family=SANS;
Chart.defaults.animation=false;

const pageText=(items)=>({id:'pageText',afterDraw(chart){
  const c=chart.ctx, box=chart.canvas.getBoundingClientRect();
  items.forEach(t=>{c.save();c.translate(t.x-box.left,t.y-box.top);c.rotate((t.rot||0)*Math.PI/180);
    c.font=t.font;c.fillStyle=t.color||'#000';c.textAlign='center';c.textBaseline='middle';c.fillText(t.text,0,0);c.restore();});
}});
const geneLabels=(names,bx,by,px,py)=>({id:'geneLabels',afterDatasetsDraw(chart){
  const c=chart.ctx,X=chart.scales.x,Y=chart.scales.y;
  c.save();c.strokeStyle='#333';c.lineWidth=.7;
  names.forEach((n,i)=>{c.beginPath();c.moveTo(X.getPixelForValue(px[i]),Y.getPixelForValue(py[i]));c.lineTo(X.getPixelForValue(bx[i]),Y.getPixelForValue(by[i]));c.stroke();});
  c.font='9.3px '+SANS;c.textAlign='center';c.textBaseline='middle';
  names.forEach((n,i)=>{const x=X.getPixelForValue(bx[i]),y=Y.getPixelForValue(by[i]),w=c.measureText(n).width+9.5,h=17.5;
    c.beginPath();c.roundRect(x-w/2,y-h/2,w,h,3);c.fillStyle='#fff';c.fill();c.strokeStyle='#333';c.lineWidth=.8;c.stroke();
    c.fillStyle='#222';c.fillText(n,x,y+.3);});
  c.restore();
}});

function manhattan(id,env,speckle,navy,rosy,reverse,yMin,yMax,pad,yWidth,xHeight,names,bx,by,px,py,texts){
  const ds=[];
  env.forEach((vals,i)=>{const s=segStart[i],e=segEnd[i];
    ds.push({type:'line',data:vals.map((v,k)=>({x:s+(e-s)*k/(vals.length-1),y:v})),
      fill:'origin',backgroundColor:segNavy[i]?NAVY:ROSY,borderWidth:0,pointRadius:0,order:5});
    ds.push({type:'scatter',data:speckle[i].map((v,k)=>({x:s+(e-s)*k/(speckle[i].length-1),y:v})),
      backgroundColor:segNavy[i]?NAVY:ROSY,borderWidth:0,pointRadius:segNavy[i]?1.7:1.4,order:4});});
  ds.push({type:'scatter',data:rosy,backgroundColor:ROSY,borderWidth:0,pointRadius:1.35,order:3});
  ds.push({type:'scatter',data:navy,backgroundColor:NAVY,borderWidth:0,pointRadius:1.7,order:2});
  [[suggestiveLine,'#2f2ff5',[],1.4],[genomeWideLine,'rgba(255,20,20,1)',[5,3],1.3]].forEach(l=>{
    ds.push({type:'line',data:[{x:0,y:l[0]},{x:635,y:l[0]}],borderColor:l[1],borderWidth:l[3],borderDash:l[2],pointRadius:0,fill:false,order:1});});
  new Chart(document.getElementById(id),{type:'scatter',data:{datasets:ds},
    options:{responsive:false,layout:{padding:pad},plugins:{legend:{display:false},tooltip:{enabled:false}},
      scales:{
        x:{type:'linear',min:0,max:635,position:reverse?'top':'bottom',afterFit:s=>{s.height=xHeight;},
          afterBuildTicks:s=>{s.ticks=reverse?[]:chrTickPos.map(v=>({value:v}));},
          border:{display:true,color:'#000',width:1.6},
          grid:{drawOnChartArea:false,display:!reverse,drawTicks:!reverse,tickLength:3,tickColor:'#333'},
          ticks:{display:!reverse,autoSkip:false,maxRotation:0,padding:3,color:'#4d4d4d',font:{size:11.5},
            callback:(v,i)=>chrTickLabels[i]}},
        y:{type:'linear',min:yMin,max:yMax,reverse,afterFit:s=>{s.width=yWidth;},
          afterBuildTicks:s=>{s.ticks=yTicksA.map(v=>({value:v}));},
          border:{display:true,color:'#000',width:1.6},
          grid:{drawOnChartArea:false,drawTicks:true,tickLength:3,tickColor:'#333'},
          ticks:{color:'#4d4d4d',padding:2,labelOffset:1,font:{size:11.5},callback:v=>v.toFixed(1)}}
      }},
    plugins:[geneLabels(names,bx,by,px,py),pageText(texts)]});
}
const yTitle1='bold 19px '+SANS, yTitle2='bold 18px '+SANS;
manhattan('aTop',topEnvelope,topSpeckle,topNavyPoints,topRosyPoints,false,-.179,8.887,{left:0,top:27,right:22,bottom:0},143,23.3,
  topGeneNames,topGeneBoxPos,topGeneBoxVal,topGenePos,topGeneVal,
  [{text:'Positive delta-beta value',x:52,y:203,rot:-90,font:yTitle1},{text:'-log10 (Inflation adj. p)',x:83,y:205,rot:-90,font:yTitle2}]);
manhattan('aBot',botEnvelope,botSpeckle,botNavyPoints,botRosyPoints,true,-.179,8.878,{left:0,top:5,right:22,bottom:10},143,5,
  botGeneNames,botGeneBoxPos,botGeneBoxVal,botGenePos,botGeneVal,
  [{text:'Negative delta-beta value',x:52,y:551,rot:-90,font:yTitle1},{text:'-log10 (Inflation adj. p)',x:83,y:551,rot:-90,font:yTitle2}]);

// Panel B: polar area, bars separated by thin spacer slices
const binLabels=[],binValues=[],binColors=[],binGroup=[];
function addGroup(names,vals,color,group){names.forEach((n,i)=>{binLabels.push(n);binValues.push(vals[i]);binColors.push(color);binGroup.push(group);});}
function addBlank(n){for(let i=0;i<n;i++){binLabels.push('');binValues.push(null);binColors.push('#fff');binGroup.push(-1);}}
addGroup(cgiNames,cgiValues,'#EFEDF5',0);addBlank(5);
addGroup(featureCgiNames,featureCgiValues,'#BCBDDC',1);addBlank(5);
addGroup(featureNames,featureValues,'#7F79B9',2);addBlank(5);
const polarLabels=[],polarValues=[],polarColors=[],polarBin=[];
binLabels.forEach((l,i)=>{polarLabels.push(l);polarValues.push(binValues[i]);polarColors.push(binColors[i]);polarBin.push(i);
  polarLabels.push('');polarValues.push(null);polarColors.push('#fff');polarBin.push(-1);});
const BIN=360/49, GAP=.6;
const deg=a=>(a-90)*Math.PI/180;
const polarPlugin={id:'polarDecor',afterDatasetsDraw(chart){
  const c=chart.ctx,R=chart.scales.r,cx=R.xCenter,cy=R.yCenter,rv=v=>R.getDistanceFromCenterForValue(v);
  const r0=rv(0);
  c.save();
  c.beginPath();c.arc(cx,cy,r0,0,2*Math.PI);c.fillStyle='#fff';c.fill();
  const centre=i=>(i+.5)*BIN;
  c.strokeStyle='#333';c.lineWidth=.8;
  binLabels.forEach((l,i)=>{if(binGroup[i]<0)return;const a=centre(i),h=(BIN-GAP)/2;c.beginPath();c.arc(cx,cy,r0,deg(a-h),deg(a+h));c.stroke();});
  c.strokeStyle='#bebebe';c.lineWidth=1.6;
  radialTicks.forEach(v=>{[[33.3,62.6],[238.7,267.6]].forEach(sp=>{c.beginPath();c.arc(cx,cy,rv(v),deg(sp[0]),deg(sp[1]));c.stroke();});});
  c.strokeStyle='#1a1a1a';c.lineWidth=4;
  [0,1,2].forEach(g=>{const idx=binGroup.map((x,i)=>x===g?i:-1).filter(i=>i>=0);
    c.beginPath();c.arc(cx,cy,174,deg(centre(idx[0])),deg(centre(idx[idx.length-1])));c.stroke();});
  c.font='bold 13px '+SANS;c.fillStyle='#000';c.textAlign='center';c.textBaseline='middle';
  radialTicks.forEach(v=>{const a=deg(354.4),r=rv(v);c.fillText(String(v),cx+r*Math.cos(a),cy+r*Math.sin(a));});
  c.font='bold 19.5px '+SANS;c.fillStyle='#333';c.textBaseline='middle';
  binLabels.forEach((l,i)=>{if(binGroup[i]<0)return;const a=centre(i),r=rv(binValues[i])+4;
    c.save();c.translate(cx,cy);
    c.rotate(deg(a));c.translate(r,0);
    if(a>180){c.rotate(Math.PI);c.textAlign='right';}else c.textAlign='left';
    c.fillText(l,0,0);c.restore();});
  c.fillStyle='#000';c.textAlign='center';c.font='bold 27px '+SANS;
  c.fillText('Feature',1097-800,283);c.fillText('cgi',1205-800,212.5);c.fillText('Feature.cgi',1186-800,468.5);
  c.restore();
}};
new Chart(document.getElementById('bPolar'),{type:'polarArea',
  data:{labels:polarLabels,datasets:[{data:polarValues,backgroundColor:polarColors,borderColor:polarBin.map(b=>b>=0&&binGroup[b]>=0?'#333':'rgba(0,0,0,0)'),borderWidth:.8,
    angle:ctx=>polarBin[ctx.dataIndex]>=0?BIN-GAP:GAP}]},
  options:{responsive:false,layout:{padding:{left:32,right:7,top:0,bottom:32}},plugins:{legend:{display:false},tooltip:{enabled:false}},
    scales:{r:{min:-348,max:315.5,startAngle:GAP/2,grid:{display:false},angleLines:{display:false},pointLabels:{display:false},ticks:{display:false}}}},
  plugins:[polarPlugin]});

// Panels C, D, E
function boxPanel(id,non,res,stats,ticks,digits,yMin,yMax,pad,yWidth,xHeight,barPx,xTitle,xTitleX,xTitleY,yTitleX,yTitleY){
  const ds=[];
  stats.forEach((s,i)=>{const x=i+1;
    ds.push({type:'line',data:[{x,y:s[0]},{x,y:s[4]}],borderColor:'#333',borderWidth:3,pointRadius:0,fill:false,order:6});
    ds.push({type:'line',data:[{x:x-.375,y:s[2]},{x:x+.375,y:s[2]}],borderColor:'#333',borderWidth:5.5,pointRadius:0,fill:false,order:4});
  });
  ds.push({type:'bar',data:stats.map((s,i)=>({x:i+1,y:[s[1],s[3]]})),backgroundColor:['#FFA500','#808080'],borderColor:'#333',borderWidth:3,borderSkipped:false,barThickness:barPx,order:5});
  ds.push({type:'scatter',data:non,backgroundColor:'#000',borderWidth:0,pointRadius:3.6,order:2});
  ds.push({type:'scatter',data:res,backgroundColor:'#00008B',borderWidth:0,pointRadius:3.6,order:1});
  new Chart(document.getElementById(id),{type:'scatter',data:{datasets:ds},
    options:{responsive:false,layout:{padding:pad},plugins:{legend:{display:false},tooltip:{enabled:false}},
      scales:{
        x:{type:'linear',offset:false,min:.4,max:2.6,afterFit:s=>{s.height=xHeight;},afterBuildTicks:s=>{s.ticks=[{value:1},{value:2}];},
          border:{display:true,color:'#000',width:3},grid:{offset:false,drawOnChartArea:false,drawTicks:true,tickLength:2,tickColor:'#333'},
          ticks:{autoSkip:false,maxRotation:0,padding:3,color:'#4d4d4d',font:{size:15.6},callback:(v,i)=>groupNames[i]}},
        y:{type:'linear',min:yMin,max:yMax,afterFit:s=>{s.width=yWidth;},afterBuildTicks:s=>{s.ticks=ticks.map(v=>({value:v}));},
          border:{display:true,color:'#000',width:3},grid:{drawOnChartArea:false,drawTicks:true,tickLength:2,tickColor:'#333'},
          ticks:{color:'#4d4d4d',padding:2,labelOffset:1.5,font:{size:16},callback:v=>v.toFixed(digits)}}
      }},
    plugins:[pageText([{text:xTitle,x:xTitleX,y:xTitleY,font:'bold 20.5px '+SANS},{text:'beta',x:yTitleX,y:yTitleY,rot:-90,font:'bold 19px '+SANS}])]});
}
boxPanel('cBox',cNon,cRes,cBoxStats,cTicks,2,.04906,.0961,{left:0,top:20,right:65,bottom:0},86,55,122,'cg23574897 (LBX1)',273,1297,37,1025);
boxPanel('dBox',dNon,dRes,dBoxStats,dTicks,3,.1248,.2487,{left:0,top:22.8,right:35,bottom:0},95,52,119,'cg08015447(A2BP1)',802,1298,557,1025);
boxPanel('eBox',eNon,eRes,eBoxStats,eTicks,2,.0763,.1452,{left:0,top:17.4,right:42,bottom:0},86,57,122,'cg07870999 (intergenic)',1361,1293,1097,1022);
</script>
</body></html>
